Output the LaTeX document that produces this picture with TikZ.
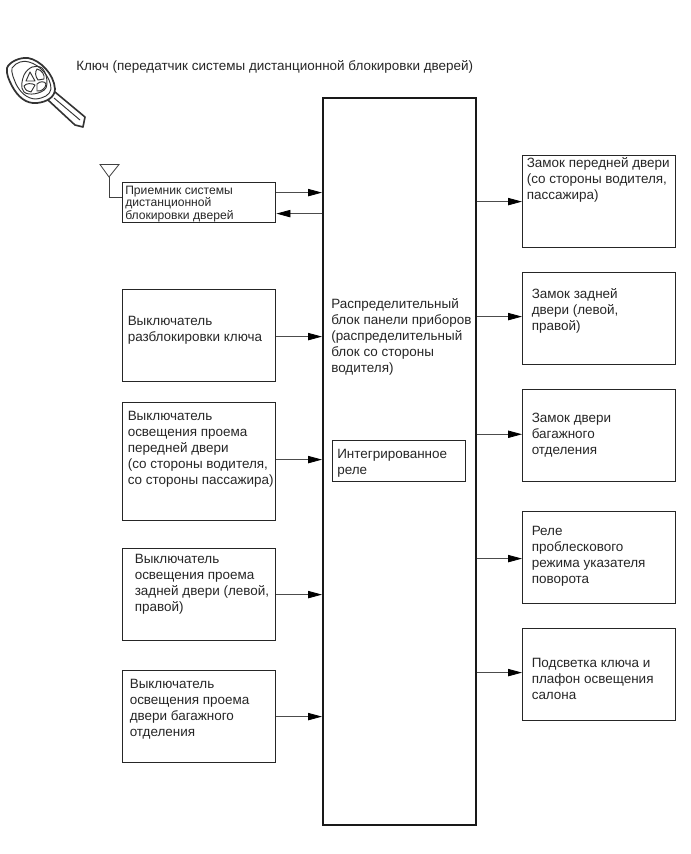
\documentclass[tikz,border=0pt]{standalone}
\usepackage{fontspec}
\setmainfont{Liberation Sans}
\usetikzlibrary{arrows.meta}

\begin{document}
\begin{tikzpicture}[x=0.75pt,y=-0.75pt,
    blockbox/.style={draw=black!85,line width=0.9pt,inner sep=0pt,anchor=north west,minimum width=114.9pt,minimum height=69pt},
    blocktext/.style={inner sep=0pt,anchor=north west,align=left,text=black!85,font=\fontsize{10.1}{12}\selectfont},
    sigline/.style={draw=black!70,line width=0.6pt,-{Triangle[length=10.5pt,width=5.5pt,color=black]}},
    keyline/.style={draw=black!80,line width=0.7pt,line join=round}]
  \useasboundingbox (0,0) rectangle (691,854);
  % key
  \draw[keyline,line width=1.2pt,fill=white] (55,92) -- (85,117) -- (83,127) -- (75,125) -- (48,100);
  \draw[keyline] (54,98) -- (80,120);
  \draw[keyline,line width=1.3pt,fill=white] (7,68) .. controls (9,62) and (20,57) .. (28,58)
    .. controls (40,60) and (54,74) .. (55,89) .. controls (55,97) and (47,102) .. (37,103)
    .. controls (26,104) and (18,97) .. (12,86) .. controls (9,80) and (6,74) .. (7,68) -- cycle;
  \draw[keyline] (12,68) .. controls (16,62) and (24,60) .. (29,62)
    .. controls (40,65) and (51,77) .. (51,89) .. controls (50,95) and (44,98) .. (36,99)
    .. controls (27,99) and (20,92) .. (16,84) .. controls (14,79) and (11,73) .. (12,68) -- cycle;
  \draw[keyline] (24,75) .. controls (28,67) and (36,64) .. (42,68)
    .. controls (47,73) and (48,83) .. (46,88) .. controls (42,94) and (28,96) .. (24,92)
    .. controls (20,88) and (22,80) .. (24,75) -- cycle;
  \draw[keyline] (30,72) -- (35,81) -- (26,81) -- cycle;
  \draw[keyline] (37,69) .. controls (42,70) and (45,75) .. (44,79) -- (38,80) .. controls (35,76) and (35,72) .. (37,69) -- cycle;
  \draw[keyline] (24,86) .. controls (26,83) and (32,83) .. (35,85) -- (31,92) .. controls (28,92) and (25,90) .. (24,86) -- cycle;
  \draw[keyline] (37,84) .. controls (40,81) and (45,81) .. (46,84) .. controls (46,88) and (41,92) .. (37,91) -- cycle;
  \node[blocktext] (keylabel) at (76,60) {Ключ (передатчик системы дистанционной блокировки дверей)};
  % central block
  \node[draw=black!90,line width=1.5pt,inner sep=0pt,anchor=north west,minimum width=114.4pt,minimum height=545.6pt] (main) at (322,96.5) {};
  \node[blocktext] (maintext) at (331,298.5) {Распределительный\\блок панели приборов\\(распределительный\\блок со стороны\\водителя)};
  \node[draw=black!85,line width=0.9pt,inner sep=0pt,anchor=north west,minimum width=99.8pt,minimum height=30.8pt] (relay) at (332,440) {};
  \node[blocktext] (relaytext) at (337,448.5) {Интегрированное\\реле};
  % receiver and antenna
  \node[blockbox,minimum height=30pt] (rx) at (122,182) {};
  \node[blocktext,font=\fontsize{9.1}{9.4}\selectfont] (rxtext) at (125,185.5) {Приемник системы\\дистанционной\\блокировки дверей};
  \coordinate (anttip) at (109,177);
  \draw[draw=black!75,line width=0.6pt] (100,164.5) -- (119,164.5) -- (anttip) -- cycle;
  \draw[draw=black!75,line width=0.6pt] (anttip) |- ([yshift=3.75pt]rx.west);
  \draw[sigline] ([yshift=7.5pt]rx.east) -- ([yshift=7.5pt]rx.east -| main.west);
  \draw[sigline] ([yshift=-8.25pt]rx.east -| main.west) -- ([yshift=-8.25pt]rx.east);
  % inputs
  \node[blockbox] (swunlock) at (122,289) {};
  \node[blocktext] (swunlocktext) at (127.5,315.5) {Выключатель\\разблокировки ключа};
  \node[blockbox,minimum height=88.5pt] (swfront) at (122,402) {};
  \node[blocktext] (swfronttext) at (127.5,410.5) {Выключатель\\освещения проема\\передней двери\\(со стороны водителя,\\со стороны пассажира)};
  \node[blockbox] (swrear) at (122,548) {};
  \node[blocktext] (swreartext) at (134.5,553.5) {Выключатель\\освещения проема\\задней двери (левой,\\правой)};
  \node[blockbox] (swtrunk) at (122,670) {};
  \node[blocktext] (swtrunktext) at (129.5,678.5) {Выключатель\\освещения проема\\двери багажного\\отделения};
  \foreach \b/\d in {swunlock/-0.75,swfront/1.5,swrear/0,swtrunk/0}
    \draw[sigline] ([yshift=\d pt]\b.east) -- ([yshift=\d pt]\b.east -| main.west);
  % outputs
  \node[blockbox] (lockfront) at (522,155) {};
  \node[blocktext] (lockfronttext) at (526.5,157.5) {Замок передней двери\\(со стороны водителя,\\пассажира)};
  \node[blockbox] (lockrear) at (522,272) {};
  \node[blocktext] (lockreartext) at (531.5,288.5) {Замок задней\\двери (левой,\\правой)};
  \node[blockbox] (locktrunk) at (522,389) {};
  \node[blocktext] (locktrunktext) at (531.5,412.5) {Замок двери\\багажного\\отделения};
  \node[blockbox] (flasher) at (522,511) {};
  \node[blocktext] (flashertext) at (531.5,526) {Реле\\проблескового\\режима указателя\\поворота};
  \node[blockbox] (lamp) at (522,628) {};
  \node[blocktext] (lamptext) at (531.5,657.5) {Подсветка ключа и\\плафон освещения\\салона};
  \foreach \b/\d in {lockfront/0,lockrear/1.5,locktrunk/1,flasher/-0.75,lamp/1.5}
    \draw[sigline] ([yshift=\d pt]\b.west -| main.east) -- ([yshift=\d pt]\b.west);
\end{tikzpicture}
\end{document}
